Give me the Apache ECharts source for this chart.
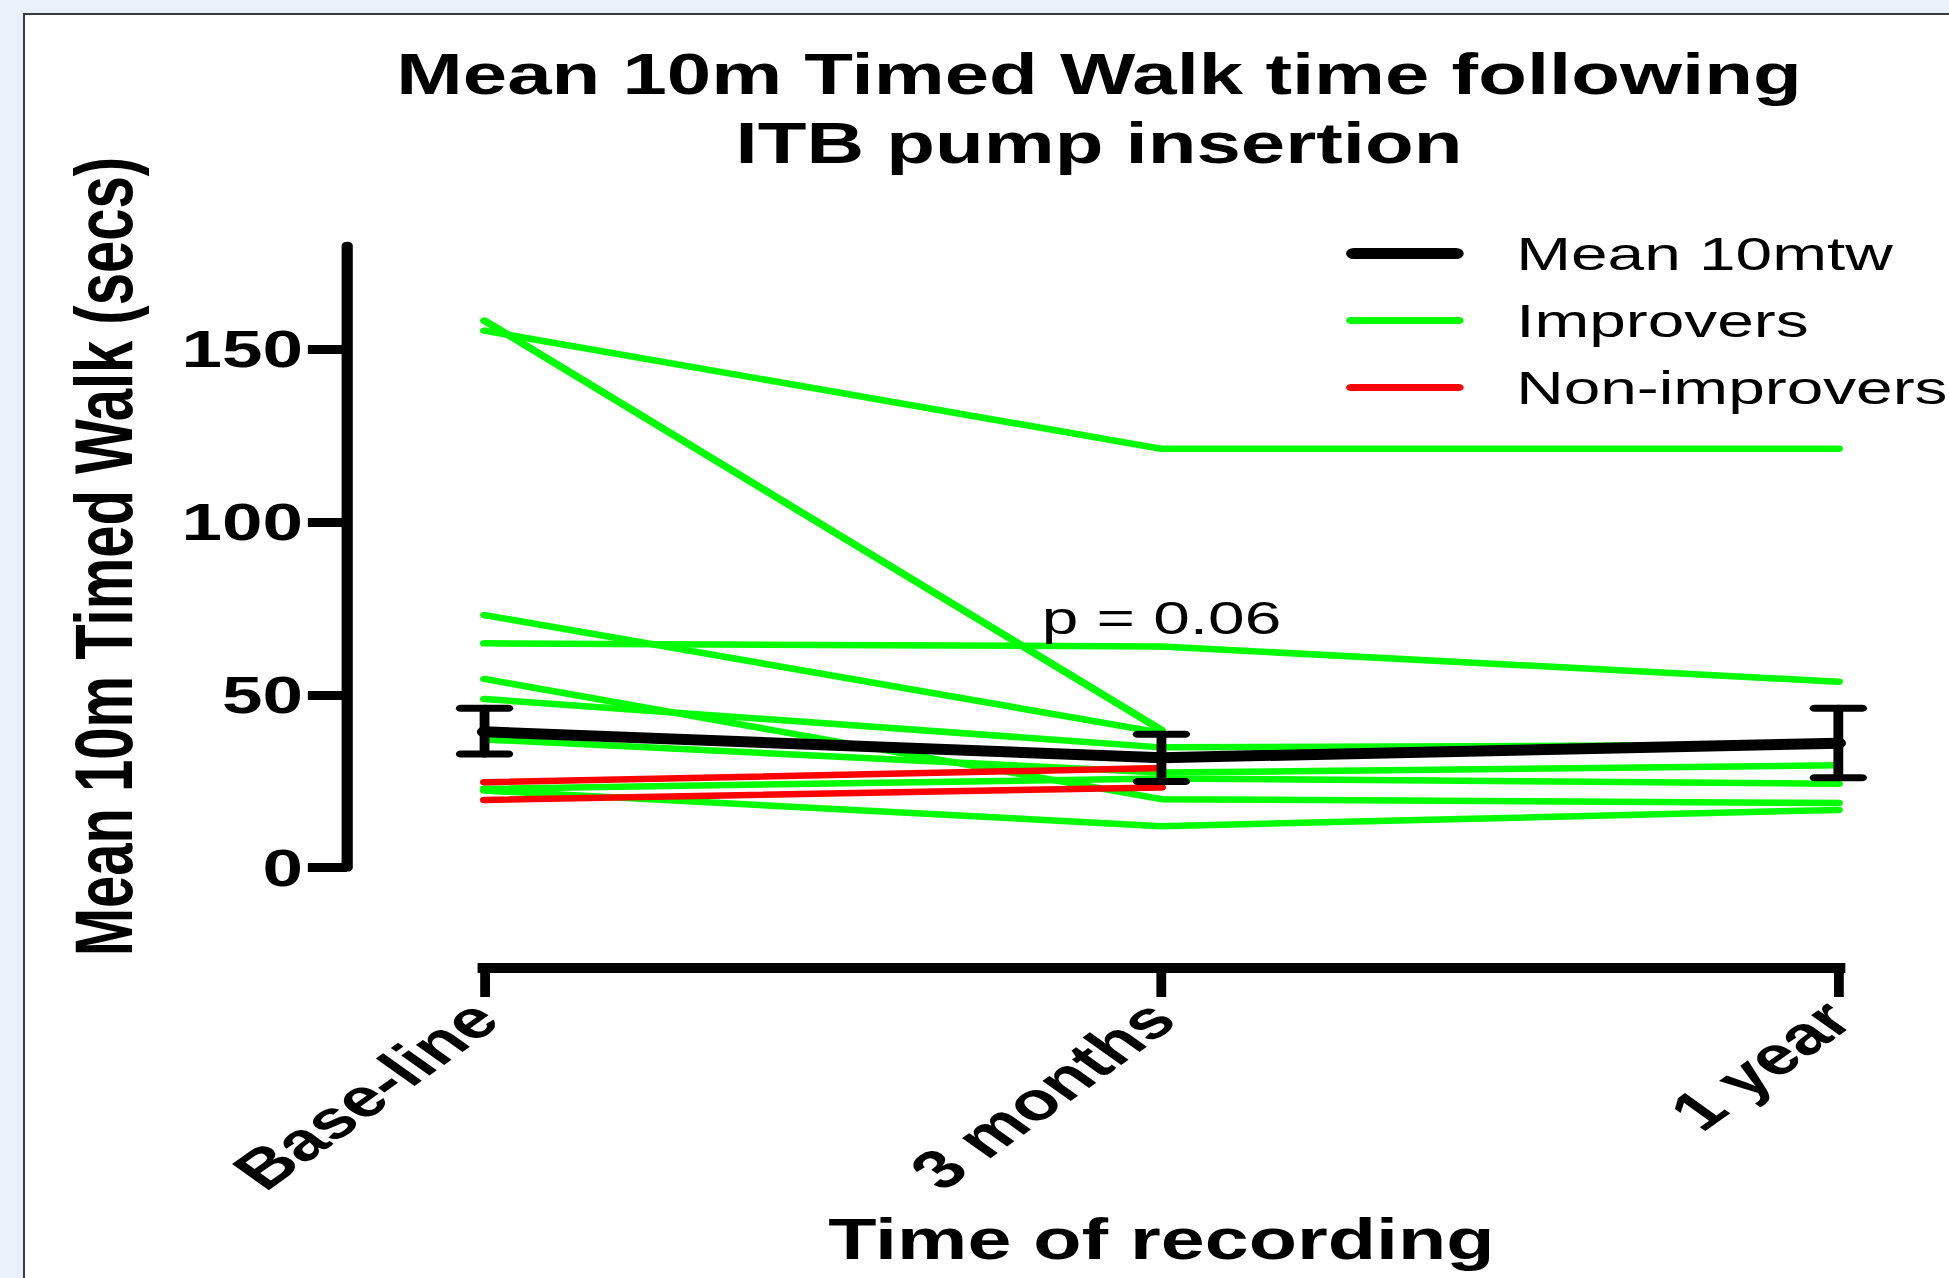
<!DOCTYPE html>
<html>
<head>
<meta charset="utf-8">
<script src="https://cdn.jsdelivr.net/npm/echarts@6/dist/echarts.min.js"></script>
<style>
  html, body { margin: 0; padding: 0; width: 1949px; height: 1278px; overflow: hidden; background: #e9f1fa; }
  #panel { position: absolute; left: 23px; top: 13px; right: 0; bottom: 0; background: #ffffff;
           border-top: 2px solid #3c3c3c; border-left: 2px solid #3c3c3c; }
  #chart { position: absolute; left: 0; top: 0; width: 1392px; height: 1278px;
           transform: scaleX(1.4); transform-origin: 0 0; }
</style>
</head>
<body>
<div id="panel"></div>
<div id="chart"></div>
<script>
// ---------------- data ----------------
const categories = ['Base-line', '3 months', '1 year'];
const yTicks = [0, 50, 100, 150];
const titleLines = ['Mean 10m Timed Walk time following', 'ITB pump insertion'];
const yAxisTitle = 'Mean 10m Timed Walk (secs)';
const xAxisTitle = 'Time of recording';
const legendNames = ['Mean 10mtw', 'Improvers', 'Non-improvers'];

// improvers (green), one array per patient
const improver1 = [158.3, 39.8, null];
const improver2 = [155.4, 121.2, 121.2];
const improver3 = [73.1, 39.0, null];
const improver4 = [64.9, 64.0, 53.8];
const improver5 = [54.6, 19.8, 18.7];
const improver6 = [48.8, 34.8, 35.6];
const improver7 = [37.1, 27.5, 29.6];
const improver8 = [22.3, 12.0, 16.7];
const improver9 = [22.8, 25.8, 24.3];

// non-improvers (red)
const nonImprover1 = [24.7, 28.8, null];
const nonImprover2 = [19.6, 23.2, null];

// mean with error bars
const meanValues = [39.3, 31.8, 36.0];
const errLow = [32.9, 24.9, 26.0];
const errHigh = [46.1, 38.6, 46.1];

// annotation
const pValueText = 'p = 0.06';
const pValuePoint = [1, 72.5];

// ---------------- chart ----------------
const FONT = '"Liberation Sans", Arial, Helvetica, sans-serif';
const GREEN = '#00ff00';
const RED = '#ff0000';
const BLACK = '#000000';

const improvers = [improver1, improver2, improver3, improver4, improver5,
                   improver6, improver7, improver8, improver9];
const nonImprovers = [nonImprover1, nonImprover2];

function lineSeries(name, data, color, width, z) {
  return {
    type: 'line', name: name, data: data, symbol: 'none', z: z,
    connectNulls: false, silent: true, animation: false,
    lineStyle: { color: color, width: width, cap: 'round', join: 'round' },
    itemStyle: { color: color },
    emphasis: { disabled: true }
  };
}

// rounded bar icons for the legend (thickness follows each line width)
function barIcon(h) {
  const r = h / 2, w = 84;
  return 'path://M' + r + ',0 L' + (w - r) + ',0 A' + r + ',' + r + ' 0 0 1 ' + (w - r) + ',' + h +
         ' L' + r + ',' + h + ' A' + r + ',' + r + ' 0 0 1 ' + r + ',0 Z';
}

const series = [];
improvers.forEach(d => series.push(lineSeries('Improvers', d, GREEN, 6.5, 2)));
nonImprovers.forEach(d => series.push(lineSeries('Non-improvers', d, RED, 6.5, 3)));
series.push(lineSeries('Mean 10mtw', meanValues, BLACK, 11, 4));

series.push({
  type: 'custom', name: 'SEM', z: 5, silent: true, animation: false,
  data: categories.map((c, i) => [i, errLow[i], errHigh[i]]),
  encode: { x: 0, y: [1, 2] },
  renderItem: function (params, api) {
    const lo = api.coord([api.value(0), api.value(1)]);
    const hi = api.coord([api.value(0), api.value(2)]);
    const x = lo[0];
    const hw = 17;
    const st = { stroke: BLACK, lineWidth: 7, lineCap: 'round' };
    return {
      type: 'group',
      children: [
        { type: 'line', shape: { x1: x, y1: hi[1], x2: x, y2: lo[1] }, style: st },
        { type: 'line', shape: { x1: x - hw, y1: hi[1], x2: x + hw, y2: hi[1] }, style: st },
        { type: 'line', shape: { x1: x - hw, y1: lo[1], x2: x + hw, y2: lo[1] }, style: st }
      ]
    };
  }
});

series.push({
  type: 'scatter', name: 'p', silent: true, animation: false, z: 6,
  data: [pValuePoint], symbolSize: 1,
  itemStyle: { color: 'rgba(0,0,0,0)' },
  label: { show: true, position: 'inside', formatter: pValueText,
           fontSize: 47, fontFamily: FONT, color: BLACK, textBorderWidth: 0, opacity: 1 }
});

const chart = echarts.init(document.getElementById('chart'), null, { renderer: 'svg' });
chart.setOption({
  animation: false,
  backgroundColor: 'transparent',
  title: {
    text: titleLines.join('\n'),
    left: 785, top: 39.5, padding: 0, textAlign: 'center',
    textStyle: { fontSize: 57, fontWeight: 'bold', fontFamily: FONT, color: BLACK, lineHeight: 69 }
  },
  legend: {
    data: [
      { name: legendNames[0], icon: barIcon(11) },
      { name: legendNames[1], icon: barIcon(7) },
      { name: legendNames[2], icon: barIcon(7) }
    ],
    orient: 'vertical', left: 956.5, top: 225,
    itemWidth: 84, itemHeight: 24, itemGap: 20, selectedMode: false, symbolKeepAspect: true,
    textStyle: { fontSize: 47, fontFamily: FONT, color: BLACK, padding: [0, 0, 0, 32.5] }
  },
  grid: { left: 346.1, right: 78.9, top: 245.7, bottom: 410.4, containLabel: false, outerBoundsMode: 'none' },
  xAxis: {
    type: 'category', data: categories, boundaryGap: false, offset: 100.4,
    axisLine: { show: true, onZero: false, lineStyle: { color: BLACK, width: 10, cap: 'square' } },
    axisTick: { show: true, length: 29, alignWithLabel: true, lineStyle: { color: BLACK, width: 7 } },
    axisLabel: { rotate: 45, margin: 42, fontSize: 54, fontWeight: 'bold', fontFamily: FONT, color: BLACK, interval: 0 },
    splitLine: { show: false },
    name: xAxisTitle, nameLocation: 'middle', nameGap: 243, nameMoveOverlap: false,
    nameTextStyle: { fontSize: 56.5, fontWeight: 'bold', fontFamily: FONT, color: BLACK }
  },
  yAxis: {
    type: 'value', min: 0, max: 180, offset: 98.2,
    axisLine: { show: true, onZero: false, lineStyle: { color: BLACK, width: 8 } },
    axisTick: { show: true, length: 28, customValues: yTicks, lineStyle: { color: BLACK, width: 9 } },
    axisLabel: { customValues: yTicks, margin: 31.5, fontSize: 52, fontWeight: 'bold', fontFamily: FONT, color: BLACK },
    splitLine: { show: false },
    name: yAxisTitle, nameLocation: 'middle', nameGap: 145, nameRotate: 90, nameMoveOverlap: false,
    nameTextStyle: { fontSize: 58, fontWeight: 'bold', fontFamily: FONT, color: BLACK }
  },
  series: series
});
</script>
</body>
</html>
